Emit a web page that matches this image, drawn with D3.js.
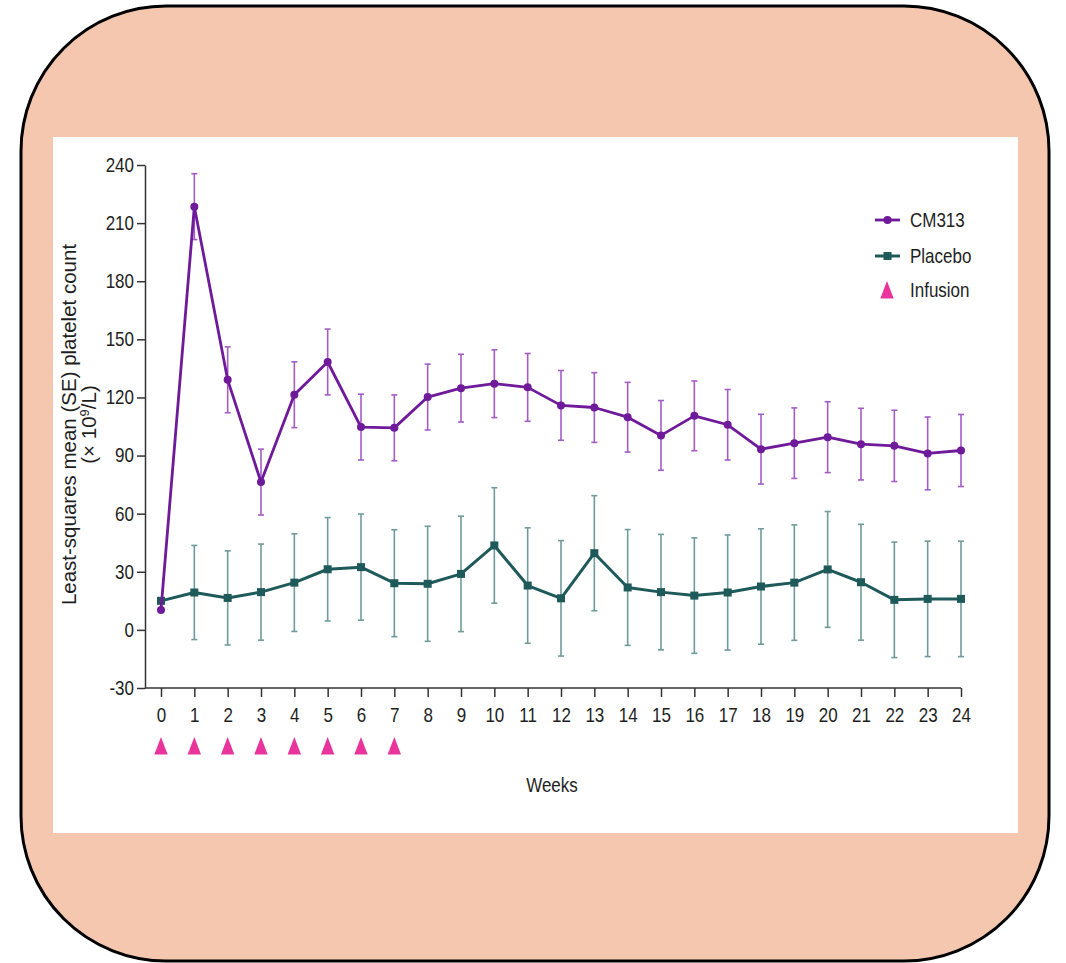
<!DOCTYPE html>
<html>
<head>
<meta charset="utf-8">
<script src="https://cdn.jsdelivr.net/npm/d3@7"></script>
<style>
  html, body { margin: 0; padding: 0; background: #ffffff; }
  svg { display: block; }
  text { font-family: "Liberation Sans", Arial, sans-serif; }
</style>
</head>
<body>
<svg id="chart" width="1066" height="963"></svg>
<script>
// Platelet count over time, CM313 vs placebo (least-squares mean ± SE)
const weeks = [0, 1, 2, 3, 4, 5, 6, 7, 8, 9, 10, 11, 12, 13, 14, 15, 16, 17, 18, 19, 20, 21, 22, 23, 24];
const cm313Mean = [10.3, 218.5, 129.1, 76.3, 121.4, 138.3, 104.7, 104.3, 120.2, 124.8, 127.1, 125.2, 115.9,
                   114.8, 109.8, 100.4, 110.5, 105.9, 93.3, 96.4, 99.5, 95.9, 95.0, 91.1, 92.6];
const cm313SE = [0, 17, 17, 17, 17, 17, 17, 17, 17, 17.5, 17.5, 17.5, 18,
                 18, 18, 18, 18, 18.2, 18, 18.2, 18.3, 18.5, 18.4, 18.8, 18.6];
const placeboMean = [15, 19.3, 16.5, 19.5, 24.4, 31.3, 32.4, 24.1, 23.8, 28.9, 43.6, 22.9, 16.3,
                     39.6, 21.9, 19.5, 17.7, 19.3, 22.4, 24.4, 31.2, 24.6, 15.5, 16, 16];
const placeboSE = [0, 24.3, 24.3, 24.8, 25.2, 26.7, 27.4, 27.6, 29.7, 29.8, 29.8, 29.8, 29.8,
                   29.7, 29.9, 29.8, 29.8, 29.7, 29.8, 29.8, 29.9, 29.9, 29.8, 29.8, 29.8];
const infusionWeeks = [0, 1, 2, 3, 4, 5, 6, 7];
const yTicks = [-30, 0, 30, 60, 90, 120, 150, 180, 210, 240];
const seriesNames = ["CM313", "Placebo", "Infusion"];

const colors = {
  cm313: "#6e1a9a",
  cm313Err: "#a55cc6",
  placebo: "#1f5a5a",
  placeboErr: "#6f9b9b",
  infusion: "#e8349b",
  axis: "#333333",
  text: "#1e1e1e"
};

// Labels use a condensed face: regular glyphs squeezed horizontally
const SQUEEZE = 0.85;

const svg = d3.select("#chart");

// Frame: peach rounded panel with a white plotting card
svg.append("rect")
  .attr("x", 21).attr("y", 6).attr("width", 1028).attr("height", 955)
  .attr("rx", 145).attr("ry", 145)
  .attr("fill", "#f5c7ae").attr("stroke", "#000").attr("stroke-width", 3);
svg.append("rect")
  .attr("x", 53).attr("y", 137).attr("width", 965).attr("height", 696)
  .attr("fill", "#ffffff");

const x = d3.scaleLinear().domain([0, 24]).range([161, 961]);
const y = d3.scaleLinear().domain([-30, 240]).range([688, 165]);
const axisLeftX = 145;

// Y axis
const yAxis = svg.append("g")
  .attr("transform", `translate(${axisLeftX},0)`)
  .call(d3.axisLeft(y).tickValues(yTicks).tickFormat(d => String(d))
    .tickSize(8).tickSizeOuter(0).tickPadding(3));
yAxis.attr("font-family", null);
yAxis.select(".domain").attr("stroke", colors.axis).attr("stroke-width", 1.5);
yAxis.selectAll(".tick line").attr("stroke", colors.axis).attr("stroke-width", 1.5);
yAxis.selectAll(".tick text")
  .attr("font-size", 20).attr("fill", colors.text)
  .attr("x", -11 / SQUEEZE)
  .attr("transform", `scale(${SQUEEZE},1)`);

// X axis
const xAxis = svg.append("g")
  .attr("transform", `translate(0,${y(-30)})`)
  .call(d3.axisBottom(x).tickValues(weeks).tickFormat(d => String(d))
    .tickSize(9).tickSizeOuter(0).tickPadding(11));
xAxis.attr("font-family", null);
xAxis.select(".domain").remove();
xAxis.append("line")
  .attr("x1", axisLeftX).attr("x2", x(24)).attr("y1", 0).attr("y2", 0)
  .attr("stroke", colors.axis).attr("stroke-width", 1.5);
xAxis.selectAll(".tick line").attr("stroke", colors.axis).attr("stroke-width", 1.5);
xAxis.selectAll(".tick text")
  .attr("font-size", 20).attr("fill", colors.text)
  .attr("transform", `scale(${SQUEEZE},1)`);

// Axis titles
const yTitle = svg.append("text")
  .attr("transform", "translate(76,424.5) rotate(-90)")
  .attr("text-anchor", "middle")
  .attr("font-size", 20.5).attr("fill", colors.text);
yTitle.append("tspan").attr("x", 0).attr("y", 0).text("Least-squares mean (SE) platelet count");
const l2 = yTitle.append("tspan").attr("x", 0).attr("y", 20);
l2.append("tspan").text("(× 10");
l2.append("tspan").attr("font-size", 13).attr("dy", -7).text("9");
l2.append("tspan").attr("dy", 7).text("/L)");

svg.append("text")
  .attr("transform", `translate(552,792) scale(${SQUEEZE},1)`)
  .attr("text-anchor", "middle")
  .attr("font-size", 20).attr("fill", colors.text)
  .text("Weeks");

// Series data
const cmData = weeks.map((w, i) => ({ w, m: cm313Mean[i], se: cm313SE[i] }));
const plData = weeks.map((w, i) => ({ w, m: placeboMean[i], se: placeboSE[i] }));

function drawErrorBars(data, color) {
  const g = svg.append("g").attr("stroke", color).attr("stroke-width", 1.6).attr("fill", "none");
  const withErr = data.filter(d => d.se > 0);
  g.selectAll("line.v").data(withErr).join("line").attr("class", "v")
    .attr("x1", d => x(d.w)).attr("x2", d => x(d.w))
    .attr("y1", d => y(d.m - d.se)).attr("y2", d => y(d.m + d.se));
  g.selectAll("line.t").data(withErr).join("line").attr("class", "t")
    .attr("x1", d => x(d.w) - 3).attr("x2", d => x(d.w) + 3)
    .attr("y1", d => y(d.m + d.se)).attr("y2", d => y(d.m + d.se));
  g.selectAll("line.b").data(withErr).join("line").attr("class", "b")
    .attr("x1", d => x(d.w) - 3).attr("x2", d => x(d.w) + 3)
    .attr("y1", d => y(d.m - d.se)).attr("y2", d => y(d.m - d.se));
}

drawErrorBars(plData, colors.placeboErr);
drawErrorBars(cmData, colors.cm313Err);

const line = d3.line().x(d => x(d.w)).y(d => y(d.m));

svg.append("path").datum(plData)
  .attr("d", line).attr("fill", "none")
  .attr("stroke", colors.placebo).attr("stroke-width", 3).attr("stroke-linejoin", "round");
svg.append("g").selectAll("rect").data(plData).join("rect")
  .attr("x", d => x(d.w) - 4).attr("y", d => y(d.m) - 4)
  .attr("width", 8).attr("height", 8)
  .attr("fill", colors.placebo);

svg.append("path").datum(cmData)
  .attr("d", line).attr("fill", "none")
  .attr("stroke", colors.cm313).attr("stroke-width", 2.8).attr("stroke-linejoin", "round");
svg.append("g").selectAll("circle").data(cmData).join("circle")
  .attr("cx", d => x(d.w)).attr("cy", d => y(d.m)).attr("r", 4)
  .attr("fill", colors.cm313);

// Infusion markers below the week axis
const tri = (cx, top) => `M${cx - 6.7},${top + 17.6}L${cx},${top}L${cx + 6.7},${top + 17.6}Z`;
svg.append("g").selectAll("path").data(infusionWeeks).join("path")
  .attr("d", w => tri(x(w), 737))
  .attr("fill", colors.infusion);

// Legend
const legend = svg.append("g");
const legY = [220, 256, 290];
legend.append("line").attr("x1", 875).attr("x2", 900).attr("y1", legY[0]).attr("y2", legY[0])
  .attr("stroke", colors.cm313).attr("stroke-width", 2.8);
legend.append("circle").attr("cx", 887.5).attr("cy", legY[0]).attr("r", 4).attr("fill", colors.cm313);
legend.append("line").attr("x1", 875).attr("x2", 900).attr("y1", legY[1]).attr("y2", legY[1])
  .attr("stroke", colors.placebo).attr("stroke-width", 3);
legend.append("rect").attr("x", 883.5).attr("y", legY[1] - 4).attr("width", 8).attr("height", 8).attr("fill", colors.placebo);
legend.append("path").attr("d", tri(887, 281)).attr("fill", colors.infusion);
legend.selectAll("text").data(seriesNames).join("text")
  .attr("transform", (d, i) => `translate(910,${legY[i] + 7}) scale(${SQUEEZE},1)`)
  .attr("font-size", 20).attr("fill", colors.text)
  .text(d => d);
</script>
</body>
</html>
